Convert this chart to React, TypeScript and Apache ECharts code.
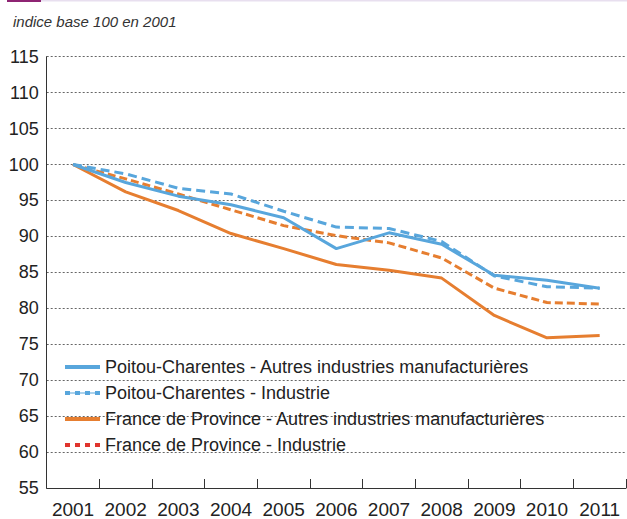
import React, { useEffect, useRef } from "react";
import * as echarts from "echarts";

const years = ["2001", "2002", "2003", "2004", "2005", "2006", "2007", "2008", "2009", "2010", "2011"];
const pcAutres = [100, 97.5, 95.6, 94.4, 92.6, 88.3, 90.5, 88.9, 84.6, 83.9, 82.8];
const pcIndustrie = [100, 98.7, 96.7, 95.9, 93.5, 91.3, 91.1, 89.3, 84.5, 83.0, 82.8];
const fpAutres = [100, 96.2, 93.6, 90.4, 88.3, 86.1, 85.3, 84.2, 79.0, 75.9, 76.2];
const fpIndustrie = [100, 98.0, 95.9, 93.7, 91.5, 90.1, 89.1, 87.0, 82.8, 80.8, 80.6];
const seriesNames = [
  "Poitou-Charentes - Autres industries manufacturières",
  "Poitou-Charentes - Industrie",
  "France de Province - Autres industries manufacturières",
  "France de Province - Industrie",
];
const subtitle = "indice base 100 en 2001";

const FONT = "'Liberation Sans', Arial, sans-serif";
const BLUE = "#58A6DC";
const ORANGE = "#E67E30";
const RED = "#E0342D";

export default function App() {
  const ref = useRef<HTMLDivElement>(null);
  useEffect(() => {
    if (!ref.current) return;
    const chart = echarts.init(ref.current, undefined, { renderer: "svg" });
    const solidIcon = "path://M0,0h35v4h-35z";
    const blueDashIcon =
      "path://M0,0h5v4h-5z M5,1.5h5v1h-5z M10,0h5v4h-5z M15,1.5h5v1h-5z M20,0h5v4h-5z M25,1.5h5v1h-5z M30,0h5v4h-5z";
    const redDotIcon = "path://M0,0h5v4h-5z M10,0h5v4h-5z M20,0h5v4h-5z M30,0h5v4h-5z";
    chart.setOption({
      animation: false,
      backgroundColor: "#ffffff",
      textStyle: { fontFamily: FONT },
      graphic: [
        { type: "rect", shape: { x: 7, y: 0, width: 34, height: 2 }, style: { fill: "#8E2473" } },
        { type: "rect", shape: { x: 41, y: 0, width: 586, height: 1.5 }, style: { fill: "#E8DFEF" } },
        {
          type: "text",
          left: 13,
          top: 14,
          style: {
            text: subtitle,
            fontFamily: FONT,
            fontStyle: "italic",
            fontSize: 15,
            fill: "#333333",
          },
        },
      ],
      grid: { left: 46.7, right: 1, top: 56.7, bottom: 29.5, containLabel: false },
      legend: {
        orient: "vertical",
        left: 65,
        top: 358,
        padding: 0,
        itemWidth: 35,
        itemHeight: 4,
        itemGap: 8,
        selectedMode: false,
        textStyle: { fontSize: 18, color: "#222222", fontFamily: FONT },
        data: [
          { name: seriesNames[0], icon: solidIcon, itemStyle: { color: BLUE } },
          { name: seriesNames[1], icon: blueDashIcon, itemStyle: { color: BLUE } },
          { name: seriesNames[2], icon: solidIcon, itemStyle: { color: ORANGE } },
          { name: seriesNames[3], icon: redDotIcon, itemStyle: { color: RED } },
        ],
      },
      xAxis: {
        type: "category",
        data: years,
        boundaryGap: true,
        axisLine: { show: true, lineStyle: { color: "#333333", width: 1 } },
        axisTick: { show: true, inside: true, length: 9, interval: 0, lineStyle: { color: "#333333" } },
        axisLabel: { fontSize: 19, color: "#222222", margin: 12, interval: 0, fontFamily: FONT },
        splitLine: { show: false },
      },
      yAxis: {
        type: "value",
        min: 55,
        max: 115,
        interval: 5,
        axisLine: { show: true, lineStyle: { color: "#333333", width: 1 } },
        axisTick: { show: false },
        axisLabel: { fontSize: 18, color: "#222222", margin: 8, fontFamily: FONT },
        splitLine: { show: true, lineStyle: { color: "#666666", width: 1, type: [2, 2] } },
      },
      series: [
        {
          name: seriesNames[3],
          type: "line",
          data: fpIndustrie,
          showSymbol: false,
          symbol: "none",
          color: ORANGE,
          lineStyle: { color: ORANGE, width: 3, type: [8, 4] },
        },
        {
          name: seriesNames[2],
          type: "line",
          data: fpAutres,
          showSymbol: false,
          symbol: "none",
          color: ORANGE,
          lineStyle: { color: ORANGE, width: 3 },
        },
        {
          name: seriesNames[1],
          type: "line",
          data: pcIndustrie,
          showSymbol: false,
          symbol: "none",
          color: BLUE,
          lineStyle: { color: BLUE, width: 3, type: [9, 5] },
        },
        {
          name: seriesNames[0],
          type: "line",
          data: pcAutres,
          showSymbol: false,
          symbol: "none",
          color: BLUE,
          lineStyle: { color: BLUE, width: 3 },
        },
      ],
    });
    return () => chart.dispose();
  }, []);
  return (
    <div
      ref={ref}
      style={{ position: "absolute", left: 0, top: 0, width: 627, height: 519 }}
    />
  );
}
